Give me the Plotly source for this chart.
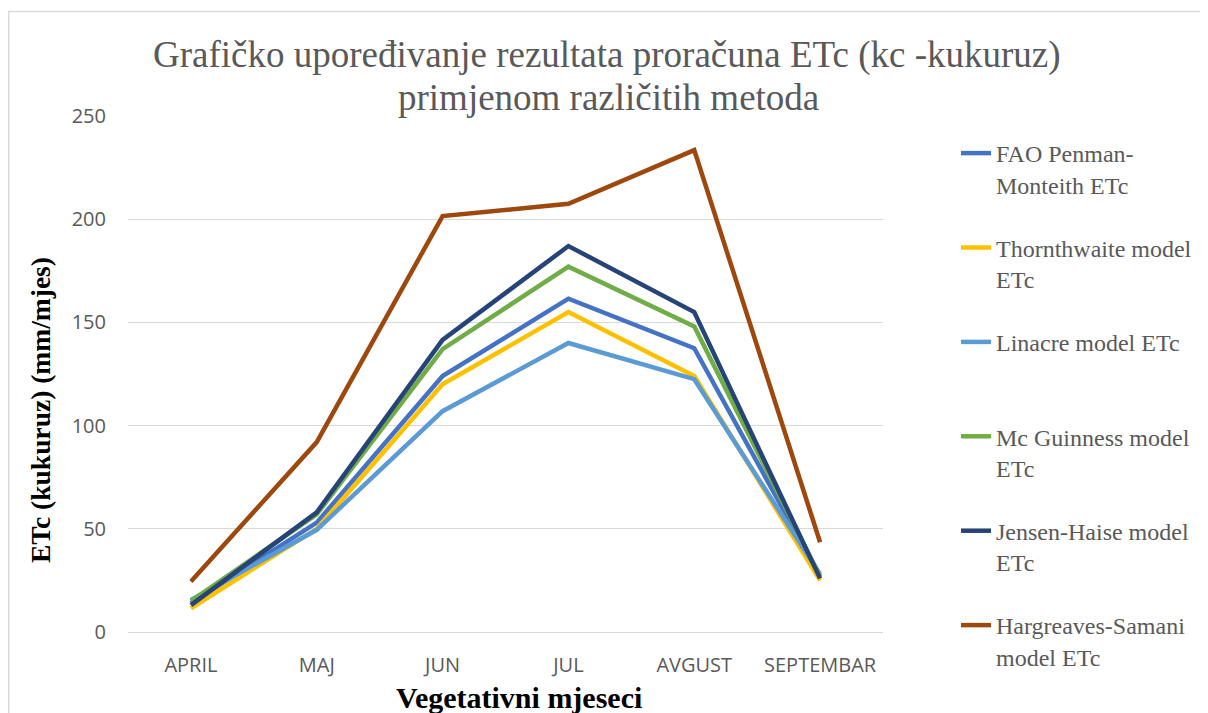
import plotly.graph_objects as go

months = ["APRIL", "MAJ", "JUN", "JUL", "AVGUST", "SEPTEMBAR"]

series_names = [
    "FAO Penman-<br>Monteith ETc",
    "Thornthwaite model<br>ETc",
    "Linacre model ETc<br>&nbsp;",
    "Mc Guinness model<br>ETc",
    "Jensen-Haise model<br>ETc",
    "Hargreaves-Samani<br>model ETc",
]
fao = [14, 53, 124, 161.5, 137.5, 27]
thornthwaite = [11.5, 50, 120, 155, 124, 25]
linacre = [15.5, 49.5, 107, 140, 122.5, 28]
mcguinness = [15, 57, 137, 177, 148, 27]
jensen = [13, 58, 141.5, 187, 155, 26]
hargreaves = [24.5, 92, 201.5, 207.5, 233.5, 43.5]

values = [fao, thornthwaite, linacre, mcguinness, jensen, hargreaves]
colors = ["#4472C4", "#FFC000", "#5B9BD5", "#70AD47", "#264478", "#9E480E"]

title_line1 = "Grafičko upoređivanje rezultata proračuna ETc (kc -kukuruz)"
title_line2 = "primjenom različitih metoda"
x_title = "<b>Vegetativni mjeseci</b>"
y_title = "<b>ETc (kukuruz) (mm/mjes)</b>"

# the page body adds an 8px margin; work in figure pixels = reference pixels - 8
OFF = 8
W, H = 1208 - OFF, 713 - OFF
L, T = 128 - OFF, 116 - OFF
R = W - (884 - OFF)
B = H - (632 - OFF)
pw, ph = W - L - R, H - T - B

fig = go.Figure()
for i, (name, vals, col) in enumerate(zip(series_names, values, colors)):
    fig.add_trace(go.Scatter(
        x=months, y=vals, name=name, mode="lines",
        line=dict(color=col, width=4.5),
        legendgroup=f"g{i}",
    ))

def px_x(p):  # reference pixel -> paper x
    return (p - OFF - L) / pw

def px_y(p):  # reference pixel -> paper y
    return (H - B - (p - OFF)) / ph

SERIF = "Liberation Serif"

fig.update_layout(
    width=W, height=H,
    margin=dict(l=L, r=R, t=T, b=B),
    paper_bgcolor="white", plot_bgcolor="white",
    xaxis=dict(
        showgrid=False, showline=True, linecolor="#d9d9d9", linewidth=1,
        ticks="", tickfont=dict(family="Open Sans", size=20, color="#595959"),
        ticklabelstandoff=15,
        range=[-0.5, 5.5],
    ),
    yaxis=dict(
        range=[0, 250], dtick=50, showgrid=True, gridcolor="#d9d9d9", gridwidth=1,
        zeroline=False, showline=False, ticks="",
        tickfont=dict(family="Open Sans", size=20, color="#595959"),
        ticklabelstandoff=21,
    ),
    legend=dict(
        x=px_x(956), xanchor="left", y=px_y(131), yanchor="top",
        font=dict(family=SERIF, size=24, color="#595959"),
        tracegroupgap=29, traceorder="grouped", valign="top",
        bgcolor="rgba(0,0,0,0)", maxheight=700,
    ),
    showlegend=True,
    annotations=[
        dict(text=title_line1, xref="paper", yref="paper",
             x=px_x(608), y=px_y(55), xanchor="center", yanchor="middle",
             showarrow=False,
             font=dict(family=SERIF, size=37, color="#595959")),
        dict(text=title_line2, xref="paper", yref="paper",
             x=px_x(609), y=px_y(98), xanchor="center", yanchor="middle",
             showarrow=False,
             font=dict(family=SERIF, size=37, color="#595959")),
        dict(text=x_title, xref="paper", yref="paper",
             x=px_x(520), y=px_y(697), xanchor="center", yanchor="middle",
             showarrow=False,
             font=dict(family=SERIF, size=30, color="black")),
        dict(text=y_title, xref="paper", yref="paper",
             x=px_x(40), y=px_y(410), xanchor="center", yanchor="middle",
             showarrow=False, textangle=-90,
             font=dict(family=SERIF, size=27.5, color="black")),
    ],
    shapes=[dict(
        type="rect", xref="paper", yref="paper",
        x0=px_x(8.5), x1=px_x(1300), y0=px_y(800), y1=px_y(11.5),
        line=dict(color="#d9d9d9", width=1.5), fillcolor="rgba(0,0,0,0)",
        layer="below",
    )],
)

fig.write_html("out.html")
